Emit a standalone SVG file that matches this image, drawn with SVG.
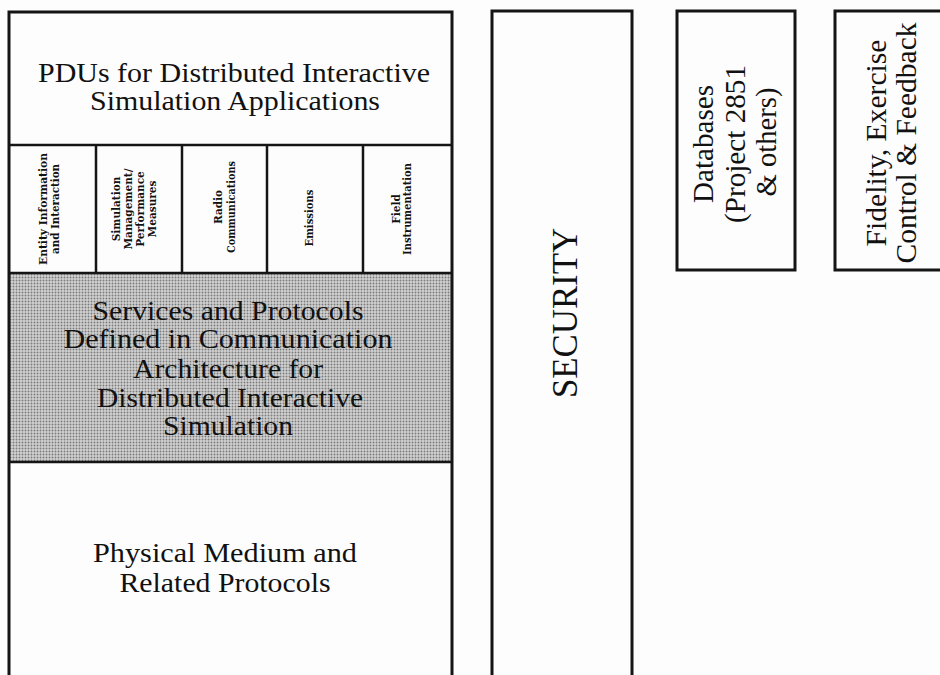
<svg xmlns="http://www.w3.org/2000/svg" width="940" height="675" viewBox="0 0 940 675">
<style>
.box{fill:none;stroke:#151515;stroke-width:3}
.ln{stroke:#151515;stroke-width:2.5}
.t{font-family:'Liberation Serif',serif;fill:#111;text-anchor:middle}
.s{font-family:'DejaVu Serif',serif;fill:#111;text-anchor:middle;font-weight:bold}
</style>
<defs>
<pattern id="dots" width="3" height="3" patternUnits="userSpaceOnUse">
<rect width="3" height="3" fill="#d2d2d2"/>
<circle cx="1.5" cy="1.5" r="0.95" fill="#7a7a7a"/>
</pattern>
</defs>
<rect width="940" height="675" fill="#fdfdfd"/>
<g id="stack">
<rect x="9" y="273" width="443" height="189" fill="url(#dots)"/>
<rect class="box" x="9" y="12" width="443" height="670"/>
<line class="ln" x1="9" y1="145" x2="452" y2="145"/>
<line class="ln" x1="9" y1="273" x2="452" y2="273"/>
<line class="ln" x1="9" y1="462" x2="452" y2="462"/>
<line class="ln" x1="96" y1="145" x2="96" y2="273"/>
<line class="ln" x1="182" y1="145" x2="182" y2="273"/>
<line class="ln" x1="267" y1="145" x2="267" y2="273"/>
<line class="ln" x1="363" y1="145" x2="363" y2="273"/>
</g>
<g id="pdus">
<text class="t" font-family="Liberation Serif, serif" font-size="27"><tspan x="234" y="82" textLength="392" lengthAdjust="spacingAndGlyphs">PDUs for Distributed Interactive</tspan><tspan x="235" y="110" textLength="290" lengthAdjust="spacingAndGlyphs">Simulation Applications</tspan></text>
</g>
<g id="col-entity">
<text class="s" font-family="DejaVu Serif, serif" font-size="11.5" transform="translate(47,209) rotate(-90)"><tspan x="0" y="0" textLength="112" lengthAdjust="spacingAndGlyphs">Entity Information</tspan><tspan x="0" y="12" textLength="90" lengthAdjust="spacingAndGlyphs">and Interaction</tspan></text>
</g>
<g id="col-simmgmt">
<text class="s" font-family="DejaVu Serif, serif" font-size="10.5" transform="translate(120,209) rotate(-90)"><tspan x="0" y="0">Simulation</tspan><tspan x="0" y="12">Management/</tspan><tspan x="0" y="24">Performance</tspan><tspan x="0" y="36">Measures</tspan></text>
</g>
<g id="col-radio">
<text class="s" font-family="DejaVu Serif, serif" font-size="10.5" transform="translate(222,207) rotate(-90)"><tspan x="0" y="0">Radio</tspan><tspan x="0" y="13" textLength="92" lengthAdjust="spacingAndGlyphs">Communications</tspan></text>
</g>
<g id="col-emissions">
<text class="s" font-family="DejaVu Serif, serif" font-size="10.5" transform="translate(313,218) rotate(-90)" textLength="57" lengthAdjust="spacingAndGlyphs">Emissions</text>
</g>
<g id="col-field">
<text class="s" font-family="DejaVu Serif, serif" font-size="10.5" transform="translate(400,209) rotate(-90)"><tspan x="0" y="0">Field</tspan><tspan x="0" y="11" textLength="92" lengthAdjust="spacingAndGlyphs">Instrumentation</tspan></text>
</g>
<g id="services">
<text class="t" font-family="Liberation Serif, serif" font-size="27"><tspan x="228" y="320" textLength="271" lengthAdjust="spacingAndGlyphs">Services and Protocols</tspan><tspan x="228" y="348" textLength="329" lengthAdjust="spacingAndGlyphs">Defined in Communication</tspan><tspan x="228" y="378" textLength="190" lengthAdjust="spacingAndGlyphs">Architecture for</tspan><tspan x="230" y="407" textLength="266" lengthAdjust="spacingAndGlyphs">Distributed Interactive</tspan><tspan x="228" y="435" textLength="130" lengthAdjust="spacingAndGlyphs">Simulation</tspan></text>
</g>
<g id="physical">
<text class="t" font-family="Liberation Serif, serif" font-size="28"><tspan x="225" y="562" textLength="264" lengthAdjust="spacingAndGlyphs">Physical Medium and</tspan><tspan x="225" y="592" textLength="211" lengthAdjust="spacingAndGlyphs">Related Protocols</tspan></text>
</g>
<g id="security">
<rect class="box" x="492" y="11" width="140" height="671"/>
<text class="t" font-family="Liberation Serif, serif" font-size="36" transform="translate(577,313) rotate(-90)" textLength="170" lengthAdjust="spacingAndGlyphs">SECURITY</text>
</g>
<g id="databases">
<rect class="box" x="677" y="11" width="118" height="259"/>
<text class="t" font-family="Liberation Serif, serif" font-size="29" transform="translate(713,144) rotate(-90)"><tspan x="0" y="0" textLength="118" lengthAdjust="spacingAndGlyphs">Databases</tspan><tspan x="0" y="32" textLength="158" lengthAdjust="spacingAndGlyphs">(Project 2851</tspan><tspan x="2" y="63" textLength="109" lengthAdjust="spacingAndGlyphs">&amp; others)</tspan></text>
</g>
<g id="fidelity">
<rect class="box" x="835" y="11" width="125" height="259"/>
<text class="t" font-family="Liberation Serif, serif" font-size="29" transform="translate(886,143) rotate(-90)"><tspan x="0" y="0" textLength="207" lengthAdjust="spacingAndGlyphs">Fidelity, Exercise</tspan><tspan x="0" y="30" textLength="241" lengthAdjust="spacingAndGlyphs">Control &amp; Feedback</tspan></text>
</g>
<g id="connectors"/>
</svg>
